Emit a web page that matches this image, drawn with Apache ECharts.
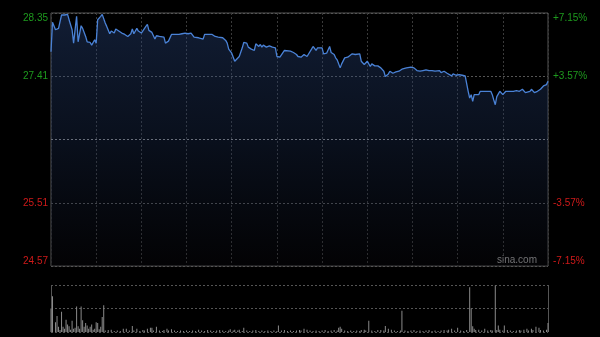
<!DOCTYPE html>
<html><head><meta charset="utf-8">
<script src="https://cdn.jsdelivr.net/npm/echarts@6/dist/echarts.min.js"></script>
<style>html,body{margin:0;padding:0;background:#000;}#c{width:600px;height:337px;}</style>
</head><body><div id="c"></div>
<script>
// minutes since open (0..330, HK session, 11 half-hour slots)
const priceMinutes = [0,1,3,5,7,8,9,11,12,14,15,17,18,20,21,23,24,26,27,29,30,31,33,34,36,37,39,40,42,43,45,47,49,51,53,54,55,57,58,60,63,64,65,67,69,70,72,75,76,78,80,81,83,85,87,89,91,93,95,98,101,102,105,106,107,109,111,114,116,117,118,120,122,123,125,127,128,130,131,133,135,136,138,139,140,141,142,143,145,146,147,149,150,152,153,155,156,159,161,163,164,166,167,168,170,171,173,174,176,177,178,180,181,183,185,186,188,189,190,192,193,195,197,198,200,202,203,205,206,208,209,210,212,213,215,217,219,221,222,224,225,227,229,231,233,236,237,239,241,243,245,247,249,251,253,255,258,259,261,263,264,266,267,269,271,273,275,276,277,278,279,280,281,282,284,285,288,290,292,293,294,295,296,298,299,300,302,303,305,307,309,311,313,315,316,318,319,321,323,325,327,329,330];
const prices = [27.77,28.21,28.10,28.12,28.32,28.30,28.32,28.33,28.25,28.10,27.90,28.30,27.92,28.16,28.12,28.00,27.92,27.91,27.87,27.95,27.90,28.25,28.30,28.33,28.20,28.15,28.04,28.08,28.05,28.11,28.08,28.05,28.03,28.00,28.04,28.11,28.04,28.12,28.08,28.05,28.15,28.18,28.09,28.06,27.96,28.01,28.00,27.99,27.90,27.93,28.03,28.05,28.03,28.03,28.04,28.05,28.04,28.05,27.99,27.98,27.96,28.03,28.03,28.01,28.03,28.00,27.99,27.98,27.94,27.90,27.81,27.75,27.63,27.61,27.70,27.83,27.91,27.90,27.84,27.81,27.79,27.89,27.85,27.88,27.84,27.87,27.86,27.84,27.86,27.87,27.84,27.83,27.70,27.69,27.70,27.79,27.78,27.78,27.76,27.73,27.70,27.69,27.70,27.73,27.70,27.69,27.81,27.85,27.79,27.83,27.84,27.83,27.74,27.75,27.85,27.76,27.73,27.68,27.65,27.53,27.59,27.68,27.69,27.68,27.74,27.73,27.74,27.74,27.63,27.58,27.60,27.63,27.55,27.59,27.56,27.56,27.53,27.48,27.40,27.44,27.48,27.45,27.47,27.48,27.51,27.53,27.51,27.54,27.53,27.49,27.48,27.49,27.50,27.49,27.49,27.48,27.49,27.46,27.48,27.45,27.44,27.41,27.44,27.42,27.43,27.42,27.41,27.40,27.18,27.08,27.13,27.03,27.13,27.11,27.13,27.18,27.18,27.18,27.18,27.13,27.05,26.98,27.10,27.18,27.20,27.13,27.18,27.20,27.18,27.18,27.19,27.18,27.21,27.16,27.15,27.18,27.21,27.16,27.18,27.21,27.26,27.28,27.33];
const volMinutes = [0,1,3,4,5,6,7,8,9,10,11,12,13,14,15,16,17,18,19,20,21,22,23,24,25,26,27,28,29,30,31,32,33,34,35,36,38,40,42,44,46,48,50,52,54,55,57,59,61,62,64,66,67,68,70,72,74,75,77,78,80,82,84,86,88,90,92,94,96,98,100,102,104,106,108,110,112,114,116,118,119,121,122,124,125,127,128,130,132,134,136,138,140,142,144,146,148,150,151,153,155,157,159,161,163,165,166,168,170,172,174,176,178,180,182,184,186,188,190,191,192,193,195,197,199,201,203,205,206,208,209,211,213,215,217,219,221,222,224,226,228,230,232,233,235,237,239,241,243,245,247,249,251,253,255,257,259,261,263,264,266,268,270,272,274,276,278,279,280,281,282,284,286,288,290,292,293,295,296,297,298,300,301,303,305,307,309,311,312,314,316,317,319,320,322,324,325,327,329,330];
const volValues = [50,76,21,34,11,4,43,11,7,26,16,12,5,24,7,9,54,12,7,54,25,11,19,14,7,11,16,5,7,21,19,6,11,32,57,3,4,5,2,3,2,7,7,3,13,3,7,2,4,3,7,9,9,3,11,3,2,4,7,3,6,3,2,3,2,3,2,3,2,5,3,2,4,3,2,3,4,3,2,3,6,3,5,3,5,2,9,3,2,3,4,2,3,2,3,2,3,2,14,3,4,2,3,2,3,4,3,7,5,3,2,3,2,3,4,2,3,4,3,9,11,7,3,2,3,2,3,2,4,5,3,24,3,2,4,4,3,13,7,5,3,2,3,45,3,2,3,4,2,3,2,3,4,2,3,2,3,4,3,5,7,3,9,3,2,4,95,50,12,7,4,5,3,7,3,4,3,99,4,14,5,3,14,4,3,2,3,4,3,5,7,3,7,4,11,9,4,3,5,19];
const priceTickLabels = ['24.57','25.51','','27.41','28.35'];
const pctTickLabels = ['-7.15%','-3.57%','','+3.57%','+7.15%'];
const tickColors = ['#d01a1a','#d01a1a','#888','#1e9a1e','#1e9a1e'];
const priceMin = 24.57, priceMax = 28.35, priceStep = 0.945;

const idx = v => Math.round((v - priceMin) / priceStep);
const chart = echarts.init(document.getElementById('c'), null, {renderer:'canvas'});
const lineData = priceMinutes.map((m,i)=>[m, prices[i]]);
const volData = volMinutes.map((m,i)=>[m, volValues[i]]);
const baseLabel = {
  fontFamily: 'Liberation Sans, Arial, sans-serif', fontSize: 10,
  verticalAlignMinLabel: 'bottom', verticalAlignMaxLabel: 'top',
  color: (v) => tickColors[idx(v)]
};
chart.setOption({
  backgroundColor: '#000',
  animation: false,
  grid: [
    {left: 51, top: 13, width: 497, height: 253, show: true, borderColor: '#555', borderWidth: 1, backgroundColor: 'transparent'},
    {left: 51, top: 285, width: 497, height: 47, show: false}
  ],
  xAxis: [
    {type: 'value', gridIndex: 0, min: 0, max: 330, interval: 30,
     axisLine: {show: false}, axisTick: {show: false}, axisLabel: {show: false},
     splitLine: {show: true, lineStyle: {color: '#3a3a3a', type: [2,2], width: 1}}},
    {type: 'value', gridIndex: 1, min: 0, max: 330, interval: 330,
     axisLine: {show: false}, axisTick: {show: false}, axisLabel: {show: false},
     splitLine: {show: true, lineStyle: {color: '#555', type: 'solid', width: 1}}}
  ],
  yAxis: [
    {type: 'value', gridIndex: 0, min: priceMin, max: priceMax, interval: priceStep, position: 'left',
     axisLine: {show: false}, axisTick: {show: false},
     axisLabel: Object.assign({}, baseLabel, {margin: 3, formatter: (v) => priceTickLabels[idx(v)]}),
     splitLine: {show: true, lineStyle: {color: ['#555','#555','#8a8a8a','#555','#555'], type: [2,2], width: 1}}},
    {type: 'value', gridIndex: 0, min: priceMin, max: priceMax, interval: priceStep, position: 'right',
     axisLine: {show: false}, axisTick: {show: false},
     axisLabel: Object.assign({}, baseLabel, {margin: 5, formatter: (v) => pctTickLabels[idx(v)]}),
     splitLine: {show: false}},
    {type: 'value', gridIndex: 1, min: 0, max: 100, interval: 50,
     axisLine: {show: false}, axisTick: {show: false}, axisLabel: {show: false},
     splitLine: {show: true, lineStyle: {color: '#555', type: [2,2], width: 1}}}
  ],
  series: [
    {type: 'line', xAxisIndex: 0, yAxisIndex: 0, data: lineData, showSymbol: false, symbol: 'none',
     lineStyle: {color: '#4a82d6', width: 1.3},
     areaStyle: {color: new echarts.graphic.LinearGradient(0,0,0,1,[
       {offset: 0, color: 'rgba(45,75,135,0.55)'},
       {offset: 0.5, color: 'rgba(30,50,90,0.45)'},
       {offset: 1, color: 'rgba(10,10,16,0.4)'}])}},
    {type: 'bar', xAxisIndex: 1, yAxisIndex: 2, data: volData, barWidth: 1,
     itemStyle: {color: '#8a8a8a'}}
  ],
  graphic: [
    {type: 'text', right: 63, top: 255, style: {text: 'sina.com', fill: '#9a9a9a', font: '10px Liberation Sans, Arial, sans-serif'}}
  ]
});
</script></body></html>
